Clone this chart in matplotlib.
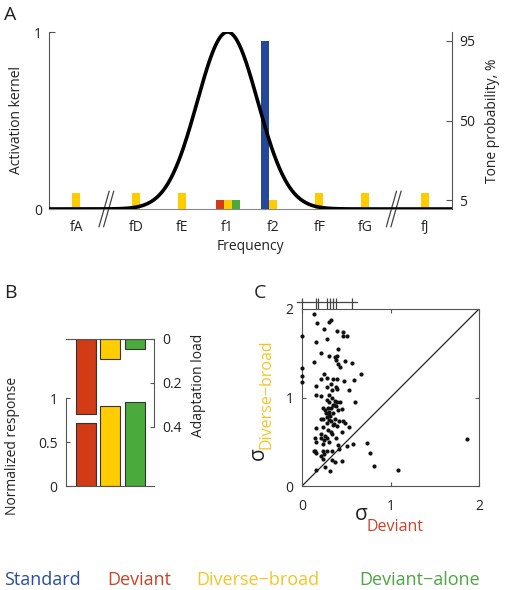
import numpy as np
import matplotlib
matplotlib.use("Agg")
import matplotlib.pyplot as plt

# ---------------- data ----------------
# Panel A
freq_labels = ["fA", "fD", "fE", "f1", "f2", "fF", "fG", "fJ"]
freq_pos = [1.70, 3.0, 4.0, 5.0, 6.0, 7.0, 8.0, 9.30]
diverse_prob = [9, 9, 9, 5, 5, 9, 9, 9]          # % (yellow)
standard_prob = 95                              # % at f2 (blue)
deviant_prob = 5                                # % at f1 (red)
deviant_alone_prob = 5                          # % at f1 (green)
kernel_center = 5.0
kernel_width = 0.66
break_pos = [2.36, 8.62]

# Panel B
conditions = ["Deviant", "Diverse\u2212broad", "Deviant\u2212alone"]
norm_response = [0.72, 0.91, 0.95]
adapt_load = [0.34, 0.09, 0.045]

# Panel C
sigma_dev = [0.14, 0.17, 0.31, 0.33, 0.25, 0.0, 0.40, 0.46, 0.46, 0.51, 0.16, 0.28,
             0.41, 0.22, 0.31, 0.37, 0.39, 0.14, 0.38, 0.41, 0.43, 0.49, 0.56, 0.0,
             0.0, 0.0, 0.67, 0.25, 0.21, 0.28, 0.35, 0.39, 0.47, 0.59, 0.16, 0.28,
             0.33, 0.38, 0.40, 0.53, 0.34, 0.16, 0.22, 0.31, 0.34, 0.37, 0.40, 0.43,
             0.60, 0.28, 0.31, 0.35, 0.38, 0.24, 0.26, 0.33, 0.41, 0.45, 0.31, 0.35,
             0.28, 0.22, 0.24, 0.30, 0.37, 0.42, 0.46, 0.49, 0.33, 0.28, 0.35, 0.16,
             0.24, 0.39, 0.53, 0.29, 0.33, 0.45, 0.22, 0.26, 0.34, 0.15, 0.21, 0.25,
             0.28, 0.16, 0.24, 0.31, 0.38, 0.41, 0.51, 0.58, 0.73, 1.86, 0.13, 0.15,
             0.16, 0.24, 0.28, 0.34, 0.25, 0.42, 0.77, 0.22, 0.24, 0.34, 0.37, 0.45,
             0.81, 0.26, 0.16, 0.32, 1.09, 0.30, 0.36, 0.27, 0.32, 0.29, 0.36]
sigma_div = [1.94, 1.84, 1.85, 1.88, 1.77, 1.70, 1.75, 1.74, 1.69, 1.69, 1.63, 1.66,
             1.55, 1.50, 1.47, 1.46, 1.47, 1.40, 1.42, 1.38, 1.34, 1.41, 1.39, 1.33,
             1.24, 1.18, 1.27, 1.26, 1.21, 1.22, 1.21, 1.21, 1.19, 1.20, 1.13, 1.12,
             1.15, 1.12, 1.10, 1.09, 1.08, 1.03, 1.02, 1.03, 0.99, 0.96, 0.95, 0.95,
             0.95, 0.97, 0.95, 0.91, 0.90, 0.88, 0.86, 0.88, 0.86, 0.87, 0.84, 0.82,
             0.78, 0.76, 0.76, 0.75, 0.76, 0.74, 0.73, 0.71, 0.73, 0.71, 0.69, 0.65,
             0.67, 0.68, 0.67, 0.63, 0.61, 0.61, 0.59, 0.57, 0.59, 0.54, 0.54, 0.52,
             0.54, 0.50, 0.48, 0.50, 0.54, 0.46, 0.45, 0.47, 0.49, 0.53, 0.40, 0.39,
             0.37, 0.40, 0.39, 0.39, 0.36, 0.42, 0.37, 0.34, 0.31, 0.29, 0.27, 0.28,
             0.23, 0.22, 0.18, 0.17, 0.18, 0.80, 0.92, 0.83, 0.79, 0.88, 0.70]
dev_marks = [0.0, 0.155, 0.184, 0.286, 0.313, 0.347, 0.384, 0.56]
dev_marks_range = [-0.06, 0.62]

legend_labels = ["Standard", "Deviant", "Diverse\u2212broad", "Deviant\u2212alone"]

# ---------------- style ----------------
C_BLUE = "#25479a"
C_RED = "#d13b16"
C_YEL = "#ffcc00"
C_GRN = "#4aaa3c"
T_BLUE = "#2b4c9c"
T_RED = "#c9432b"
T_YEL = "#f5c526"
T_GRN = "#4aa640"
SPINE = "#555555"
FONT = ["Open Sans", "DejaVu Sans"]
plt.rcParams["font.family"] = FONT
plt.rcParams["text.color"] = "#222222"
plt.rcParams["xtick.color"] = SPINE
plt.rcParams["ytick.color"] = SPINE
plt.rcParams["xtick.labelcolor"] = "#222222"
plt.rcParams["ytick.labelcolor"] = "#222222"

W, H = 507, 590
fig = plt.figure(figsize=(W / 100, H / 100), dpi=100)


def rect(l, t, r, b):
    return [l / W, 1 - b / H, (r - l) / W, (b - t) / H]


def T(px, py, s, **kw):
    return fig.text(px / W, 1 - py / H, s, **kw)


# ---------------- Panel A ----------------
axA = fig.add_axes(rect(49, 32, 452, 209))
axA.set_xlim(1.11, 9.89)
axA.set_ylim(0, 1)
xs = np.linspace(1.11, 9.89, 600)
kern = np.exp(-(xs - kernel_center) ** 2 / (2 * kernel_width ** 2))

axA2 = axA.twinx()
axA2.set_ylim(0, 100)
bw = 0.175
axA2.bar(freq_pos, diverse_prob, width=bw, color=C_YEL, zorder=2)
i1 = freq_labels.index("f1")
i2 = freq_labels.index("f2")
axA2.bar(freq_pos[i1] - bw, deviant_prob, width=bw, color=C_RED, zorder=2)
axA2.bar(freq_pos[i1] + bw, deviant_alone_prob, width=bw, color=C_GRN, zorder=2)
axA2.bar(freq_pos[i2] - bw, standard_prob, width=bw, color=C_BLUE, zorder=2)
axA2.plot(xs, kern * 100, color="black", lw=2.6, zorder=3, solid_capstyle="round")

for ax in (axA, axA2):
    ax.spines["top"].set_visible(False)
    ax.set_facecolor("none")
axA.spines["right"].set_visible(False)
axA2.spines["left"].set_visible(False)
axA.spines["left"].set_color(SPINE)
axA.spines["bottom"].set_color("#888888")
axA2.spines["right"].set_color(SPINE)
axA2.spines["bottom"].set_visible(False)
axA.set_yticks([0, 1])
axA.set_yticklabels(["0", "1"])
axA.tick_params(axis="y", direction="in", length=4, pad=5, labelsize=10)
axA2.set_yticks([5, 50, 95])
axA2.tick_params(axis="y", direction="in", length=4, pad=5, labelsize=10)
axA.set_xticks(freq_pos)
axA.set_xticklabels(freq_labels)
axA.tick_params(axis="x", length=0, pad=8, labelsize=10)

# axis breaks
for bp in break_pos:
    for off in (-0.05, 0.05):
        axA.plot([bp + off - 0.11, bp + off + 0.11], [-0.1, 0.1], color="#444444",
                 lw=0.9, clip_on=False, zorder=4)

T(17, 120, "Activation kernel", rotation=90, ha="center", va="center", fontsize=10)
T(493, 121, "Tone probability, %", rotation=90, ha="center", va="center", fontsize=10)
T(250, 247, "Frequency", ha="center", va="center", fontsize=10)
T(4, 20, "A", ha="left", va="baseline", fontsize=14)

# ---------------- Panel B ----------------
axB = fig.add_axes(rect(66, 339, 154, 486))
xb = [1, 2, 3]
bcol = [C_RED, C_YEL, C_GRN]
axB.set_xlim(0.21, 3.77)
axB.set_ylim(0, 147 / 88)
axB.bar(xb, norm_response, width=0.81, color=bcol, edgecolor="#333333", linewidth=0.8)
axB2 = axB.twinx()
axB2.set_ylim(147 / 220, 0)
axB2.bar(xb, adapt_load, width=0.81, color=bcol, edgecolor="#333333", linewidth=0.8)
for ax in (axB, axB2):
    ax.set_facecolor("none")
    ax.set_xticks([])
axB.spines["top"].set_visible(False)
axB.spines["right"].set_visible(False)
axB.spines["left"].set_bounds(0, 1)
axB.spines["left"].set_color(SPINE)
axB.spines["bottom"].set_color(SPINE)
axB.set_yticks([0, 0.5, 1])
axB.set_yticklabels(["0", "0.5", "1"])
axB.tick_params(axis="y", direction="in", length=3, pad=6, labelsize=10)
axB2.spines["bottom"].set_visible(False)
axB2.spines["left"].set_visible(False)
axB2.spines["right"].set_bounds(0, 0.4)
axB2.spines["right"].set_color(SPINE)
axB2.spines["top"].set_color(SPINE)
axB2.set_yticks([0, 0.2, 0.4])
axB2.set_yticklabels(["0", "0.2", "0.4"])
axB2.tick_params(axis="y", direction="in", length=3, pad=6, labelsize=10)
T(13, 446, "Normalized response", rotation=90, ha="center", va="center", fontsize=10)
T(199, 385, "Adaptation load", rotation=90, ha="center", va="center", fontsize=10)
T(4, 298, "B", ha="left", va="baseline", fontsize=14)

# ---------------- Panel C ----------------
axC = fig.add_axes(rect(302, 309, 479, 486))
axC.set_xlim(0, 2)
axC.set_ylim(0, 2)
axC.plot([0, 2], [0, 2], color="#222222", lw=0.9)
axC.scatter(sigma_dev, sigma_div, s=9, color="#111111", zorder=3, clip_on=False,
            linewidths=0)
for sp in axC.spines.values():
    sp.set_color(SPINE)
axC.set_xticks([0, 1, 2])
axC.set_yticks([0, 1, 2])
axC.tick_params(direction="in", length=3, top=True, right=True, labelsize=10)
axC.tick_params(axis="x", pad=9)
axC.tick_params(axis="y", pad=6)
# marks of the deviant sigma distribution above the axes
axC.plot(dev_marks_range, [2.076, 2.076], color="#444444", lw=0.9, clip_on=False)
axC.vlines(dev_marks, 2.0, 2.127, color="#444444", lw=0.9, clip_on=False)

T(355, 520, "\u03c3", ha="left", va="baseline", fontsize=15)
T(367, 531, "Deviant", ha="left", va="baseline", fontsize=11.5, color=T_RED)
T(269, 460, "\u03c3", rotation=90, ha="right", va="bottom", fontsize=15)
T(266, 394, "Diverse\u2212broad", rotation=90, ha="center", va="center",
  fontsize=11.5, color=T_YEL)
T(254, 298, "C", ha="left", va="baseline", fontsize=14)

# ---------------- legend texts ----------------
for lbl, xx, cc in zip(legend_labels, [4, 107, 196, 359], [T_BLUE, T_RED, T_YEL, T_GRN]):
    T(xx, 585, lbl, ha="left", va="baseline", fontsize=13, color=cc)

fig.savefig("out.png", dpi=100)
